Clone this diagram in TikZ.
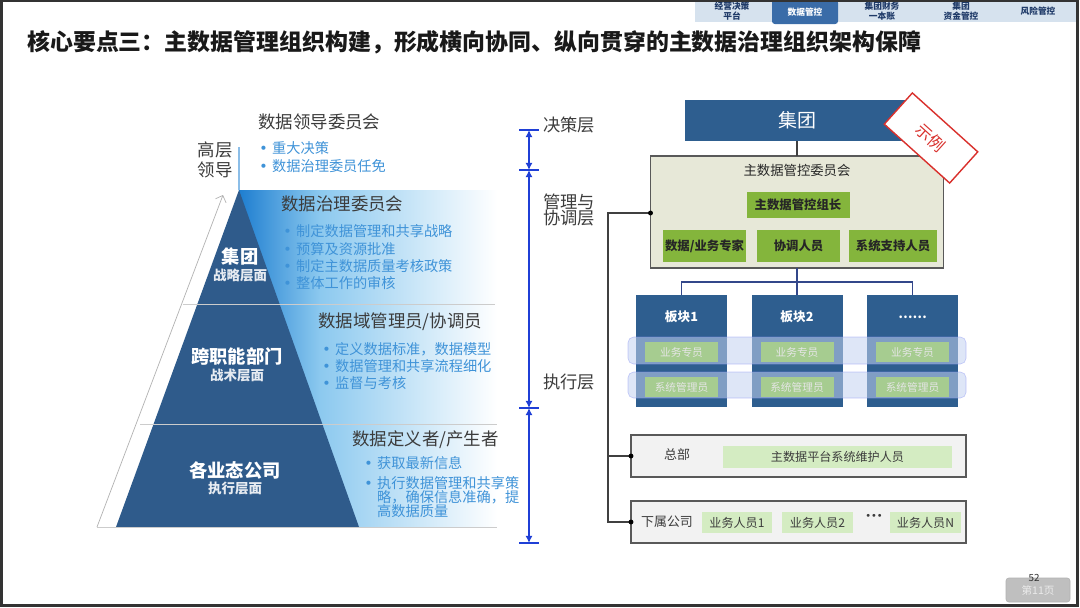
\documentclass[tikz,border=0pt]{standalone}
\usepackage{fontspec}
\setmainfont{Noto Sans CJK SC}
\newfontfamily\symfont{DejaVu Sans}
\newcommand\bulmark{\makebox[9.2pt][l]{\symfont •}}
\usetikzlibrary{arrows.meta,positioning}

\definecolor{txt}{HTML}{3C3C3C}
\definecolor{bultxt}{HTML}{3F93D8}
\definecolor{pyr}{HTML}{2F5B8B}
\definecolor{gblue}{HTML}{1E7ED0}
\definecolor{gmid}{HTML}{8CC9EF}
\definecolor{axisblue}{HTML}{1F3FD6}
\definecolor{jtblue}{HTML}{2E5E8F}
\definecolor{cmte}{HTML}{E7E8D8}
\definecolor{cgreen}{HTML}{84B53C}
\definecolor{pgreen}{HTML}{A6CC90}
\definecolor{lgreen}{HTML}{D4ECC2}
\definecolor{bandc}{HTML}{C4D3F1}
\definecolor{navyline}{HTML}{33478A}
\definecolor{tabbg}{HTML}{D6E2EE}
\definecolor{tabsel}{HTML}{3A6CA8}
\definecolor{tabtxt}{HTML}{1F3A68}
\definecolor{stampred}{HTML}{D9302C}
\definecolor{pagebox}{HTML}{BFBFBF}

\begin{document}
\begin{tikzpicture}[
    x=0.025cm, y=-0.025cm,
    sz/.style 2 args={minimum width=#1*0.025cm, minimum height=#2*0.025cm, inner sep=0pt, outer sep=0pt},
    tabl/.style={font=\fontsize{6.2}{7.4}\selectfont\bfseries, text=tabtxt, align=center},
    hd/.style={font=\fontsize{12.4}{14}\selectfont, text=txt, anchor=west, inner sep=0pt},
    bul/.style={font=\fontsize{10.1}{12}\selectfont, text=bultxt, anchor=west, inner sep=0pt},
    lvl/.style={font=\fontsize{13}{15}\selectfont\bfseries, text=white},
    lvlsub/.style={font=\fontsize{9.6}{11}\selectfont\bfseries, text=white!88!pyr},
    lyrtxt/.style={font=\fontsize{12.3}{11.6}\selectfont, text=txt, anchor=west, align=left, inner sep=0pt},
    axisline/.style={draw=axisblue, line width=2pt},
    blk/.style={fill=jtblue, text=white},
    gbox/.style={fill=cgreen, text=black!85, font=\fontsize{8.8}{10}\selectfont\bfseries},
    sbox/.style={fill=pgreen, text=white!90!black, font=\fontsize{7.6}{9}\selectfont},
    lbox/.style={fill=lgreen, text=txt, font=\fontsize{8.6}{10}\selectfont},
    unitbox/.style={draw=black!65, line width=1.2pt, fill=black!5},
    bandbox/.style={rounded corners=4pt, fill=bandc, fill opacity=0.55, draw=bandc!70!blue, draw opacity=0.5},
    conn/.style={draw=black!75, line width=0.9pt},
    jdot/.style={circle, fill=black, inner sep=0pt, minimum size=3.5pt},
    plain/.style={font=\fontsize{9.2}{11}\selectfont, text=txt}
]
    \useasboundingbox (0,0) rectangle (1080,607);
    \fill[white] (0,0) rectangle (1080,607);

    % tabs
    \fill[tabbg] (695,0) rectangle (1077,22);
    \node[tabl] (tab1) at (732,11) {经营决策\\平台};
    \node[sz={66}{24}, fill=tabsel, rounded corners=2pt, text=white, font=\fontsize{6.2}{7.4}\selectfont\bfseries] (tab2) at (805,12) {数据管控};
    \node[tabl] (tab3) at (882,11) {集团财务\\一本账};
    \node[tabl] (tab4) at (961,11) {集团\\资金管控};
    \node[tabl] (tab5) at (1038,11) {风险管控};

    \node[anchor=west, inner sep=0pt, font=\fontsize{16.3}{18}\selectfont\bfseries, text=black!90] (title) at (27,42)
        {核心要点三：主数据管理组织构建，形成横向协同、纵向贯穿的主数据治理组织架构保障};

    % pyramid
    \shade[left color=gblue, right color=gmid] (239,190) rectangle (320,527);
    \shade[left color=gmid, right color=white] (320,190) rectangle (497,527);
    \fill[pyr] (239,190) -- (359,527) -- (116,527) -- cycle;
    \draw[gray!40, line width=0.6pt] (183,304) -- (495,304);
    \draw[gray!40, line width=0.6pt] (140,424) -- (497,424);
    \draw[gray!40, line width=0.6pt] (97,527) -- (497,527);
    \coordinate (arr0) at (97,527);
    \coordinate (arr1) at (223,195);
    \draw[gray!60, line width=0.5pt, -{Straight Barb[length=4pt]}] (arr0) -- (arr1);
    \draw[bultxt!60, line width=1.3pt] (239,147) -- (239,190);

    \node[hd] (ldwyh) at (258,122) {数据领导委员会};
    \node[hd, anchor=center, align=center, font=\fontsize{12.4}{14.2}\selectfont] (gcld) at (215,160) {高层\\领导};
    \foreach \t [count=\i] in {重大决策, 数据治理委员任免}
        \node[bul] (ld\i) at (259,130+18*\i) {\bulmark{}\t};

    \node[hd] (zlwyh) at (281,204) {数据治理委员会};
    \foreach \t [count=\i] in {制定数据管理和共享战略, 预算及资源批准, 制定主数据质量考核政策, 整体工作的审核}
        \node[bul] (zl\i) at (283,214+17.3*\i) {\bulmark{}\t};

    \node[hd] (ymgl) at (318,322) {数据域管理员/协调员};
    \foreach \t [count=\i] in {定义数据标准，数据模型, 数据管理和共享流程细化, 监督与考核}
        \node[bul] (ym\i) at (322,332+17*\i) {\bulmark{}\t};

    \node[hd] (dydy) at (352,440) {数据定义者/产生者};
    \node[bul] (dy1) at (364,463) {\bulmark{}获取最新信息};
    \node[bul, anchor=north west, align=left, font=\fontsize{10.1}{10}\selectfont] (dy2) at (364,476)
        {\bulmark{}执行数据管理和共享策\\\hspace*{9.2pt}略，确保信息准确，提\\\hspace*{9.2pt}高数据质量};

    \node[lvl] (jt0) at (240,257) {集团};
    \node[lvlsub] (jt0s) at (240,275) {战略层面};
    \node[lvl] (kzn) at (237,357) {跨职能部门};
    \node[lvlsub] (kzns) at (237,375) {战术层面};
    \node[lvl] (gyt) at (235,470) {各业态公司};
    \node[lvlsub] (gyts) at (235,488) {执行层面};

    % layer axis
    \coordinate (ax1) at (529,130);
    \coordinate (ax2) at (529,170);
    \coordinate (ax3) at (529,408);
    \coordinate (ax4) at (529,543);
    \foreach \a/\b in {ax1/ax2, ax2/ax3, ax3/ax4}
        \draw[axisline, {Latex[length=5pt,width=5pt]}-{Latex[length=5pt,width=5pt]}] (\a) -- (\b);
    \foreach \a in {ax1, ax2, ax3, ax4}
        \draw[axisline] ([xshift=-0.25cm]\a) -- ([xshift=0.25cm]\a);
    \node[lyrtxt] (jcc) at (543,125) {决策层};
    \node[lyrtxt] (glc) at (543,210) {管理与\\协调层};
    \node[lyrtxt] (zxc) at (543,382) {执行层};

    % org chart
    \node[blk, sz={224}{41}, font=\fontsize{13.5}{15}\selectfont] (jt) at (797,120.5) {集团};
    \node[sz={293}{112}, draw=black!65, line width=1.2pt, fill=cmte] (wyh) at (797,212) {};
    \draw[conn] (jt) -- (wyh);
    \node[font=\fontsize{9.5}{11}\selectfont, text=black!85] (wyht) at (797,170) {主数据管控委员会};
    \node[gbox, sz={103}{26}] (zz) at (798,205) {主数据管控组长};
    \node[gbox, sz={83}{32}] (zj) at (704.5,246) {数据/业务专家};
    \node[gbox, sz={83}{32}] (xt) at (798.5,246) {协调人员};
    \node[gbox, sz={88}{32}] (zc) at (893,246) {系统支持人员};
    \node[sz={88}{42}, draw=stampred, line width=1pt, fill=white, rotate=-42, text=stampred,
          font=\fontsize{11.5}{13}\selectfont] (sl) at (931,138) {示例};

    \foreach \n/\x/\t in {b1/681.5/板块1, b2/797/板块2, b3/912.5/……} {
        \node[blk, sz={91}{112}] (\n) at (\x,351) {};
        \node[text=white, font=\fontsize{9}{10}\selectfont\bfseries] (t\n) at (\x,317) {\t};
    }
    \draw[navyline, line width=0.9pt] (wyh) -- (b2);
    \draw[navyline, line width=0.9pt] (b1.north) -- ++(0,-13) -| (b3.north);

    \node[bandbox, sz={338}{27}] (band1) at (797,350.5) {};
    \node[bandbox, sz={338}{26}] (band2) at (797,385) {};
    \foreach \x [count=\i] in {681.5,797,912.5} {
        \node[sbox, sz={73}{20}] (yw\i) at (\x,352) {业务专员};
        \node[sbox, sz={73}{20}] (gl\i) at (\x,387) {系统管理员};
    }

    \node[unitbox, sz={335}{42}] (zb) at (798.5,456) {};
    \node[plain] (zbt) at (677,455) {总部};
    \node[lbox, sz={229}{22}] (zbg) at (837.5,457) {主数据平台系统维护人员};
    \node[unitbox, sz={335}{42}] (xs) at (798.5,522) {};
    \node[plain] (xst) at (667,522) {下属公司};
    \node[lbox, sz={70}{21}] (r1) at (737,522.5) {业务人员1};
    \node[lbox, sz={71}{21}] (r2) at (817.5,522.5) {业务人员2};
    \node[font=\fontsize{7}{8}\selectfont\symfont, text=txt] (rdots) at (874,517) {•••};
    \node[lbox, sz={71}{21}] (rN) at (925.5,522.5) {业务人员N};

    \coordinate (sp) at (608,213);
    \draw[conn] (wyh.west |- sp) -- (sp) |- (zb.west);
    \draw[conn] (sp) |- (xs.west);
    \node[jdot] (d1) at (wyh.west |- sp) {};
    \node[jdot] (d2) at (zb.west) {};
    \node[jdot] (d3) at (xs.west) {};

    % page tag
    \node[sz={64}{24}, fill=pagebox, rounded corners=2pt, draw=black!30, text=white!92!black,
          font=\fontsize{7.5}{9}\selectfont] (pg) at (1038,590) {第11页};
    \node[font=\fontsize{7}{8}\selectfont, text=black!80] (pgn) at (1034,578) {52};

    \draw[black!80, line width=1.6pt] (1.5,1) rectangle (1077.5,605.5);
\end{tikzpicture}
\end{document}
